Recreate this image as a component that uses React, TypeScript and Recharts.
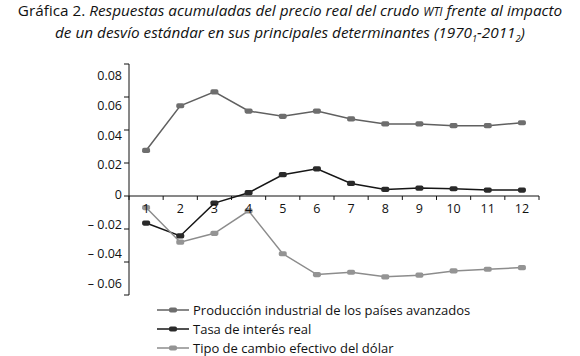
import React from "react";
import { LineChart, Line, XAxis, YAxis, ReferenceLine, LabelList } from "recharts";

const periods = [1, 2, 3, 4, 5, 6, 7, 8, 9, 10, 11, 12];
const produccion = [0.0276, 0.0547, 0.0631, 0.0515, 0.0483, 0.0515, 0.0467, 0.0437, 0.0437, 0.0426, 0.0426, 0.0444];
const tasa = [-0.0164, -0.0242, -0.0043, 0.002, 0.0129, 0.0165, 0.0076, 0.004, 0.0048, 0.0044, 0.0036, 0.0036];
const tipoCambio = [-0.007, -0.028, -0.0226, -0.009, -0.035, -0.0476, -0.0462, -0.049, -0.048, -0.0454, -0.0444, -0.0434];
const yTicks = [-0.06, -0.04, -0.02, 0, 0.02, 0.04, 0.06, 0.08];
const seriesNames = [
  "Producción industrial de los países avanzados",
  "Tasa de interés real",
  "Tipo de cambio efectivo del dólar",
];

const data = periods.map((p, i) => ({
  x: p,
  prod: produccion[i],
  tasa: tasa[i],
  tipo: tipoCambio[i],
  axis: 0,
}));

const boundaries = [0, ...periods].map((p) => p + 0.5);

const FONT = "'Open Sans', sans-serif";

const series = [
  { key: "prod", name: seriesNames[0], stroke: "#606060", dot: "#6e6e6e" },
  { key: "tasa", name: seriesNames[1], stroke: "#161616", dot: "#2a2a2a" },
  { key: "tipo", name: seriesNames[2], stroke: "#8c8c8c", dot: "#949494" },
];

const makeDot = (fill: string) => (props: any) => {
  const { cx, cy, index } = props;
  if (cx == null || cy == null) return <g key={index} />;
  return <rect key={index} x={cx - 4} y={cy - 2.6} width={8} height={5.2} rx={1.8} fill={fill} />;
};

const fmt = (v: number) => {
  if (v === 0) return "0";
  const s = Math.abs(v).toFixed(2);
  return v < 0 ? `\u2013 ${s}` : s;
};

const YTick = (props: any) => {
  const { x, y, payload } = props;
  const v = payload.value as number;
  return (
    <text x={x} y={y + v * 166 - 1.5} dy="0.35em" textAnchor="end" fontSize={12.5} fontFamily={FONT} fill="#111">
      {fmt(v)}
    </text>
  );
};

export default function App() {
  return (
    <div style={{ position: "absolute", left: 0, top: 0, width: 580, height: 356, background: "#fff", fontFamily: FONT }}>
      <div style={{ position: "absolute", left: 0, top: 0, width: 580, textAlign: "center", fontSize: 15.3, lineHeight: "21px", color: "#111" }}>
        <div style={{ whiteSpace: "nowrap" }}>
          Gráfica 2. <i>Respuestas acumuladas del precio real del crudo <span style={{ fontSize: "0.78em" }}>WTI</span> frente al impacto</i>
        </div>
        <div style={{ whiteSpace: "nowrap" }}>
          <i>
            de un desvío estándar en sus principales determinantes (1970<sub style={{ fontSize: "0.6em" }}>1</sub>-2011<sub style={{ fontSize: "0.6em" }}>2</sub>)
          </i>
        </div>
      </div>
      <div style={{ position: "absolute", left: 0, top: 0 }}>
        <LineChart width={580} height={356} data={data} margin={{ top: 64, right: 41, bottom: 61, left: 0 }}>
          <XAxis dataKey="x" type="number" domain={[0.5, 12.5]} hide />
          <YAxis
            width={129}
            domain={[-0.06, 0.08]}
            ticks={yTicks}
            interval={0}
            axisLine={{ stroke: "#111" }}
            tickLine={{ stroke: "#111" }}
            tickSize={5}
            tick={<YTick />}
          />
          <ReferenceLine y={0} stroke="#111" strokeWidth={1} />
          {boundaries.map((b) => (
            <ReferenceLine
              key={b}
              segment={[
                { x: b, y: 0 },
                { x: b, y: -0.0024 },
              ]}
              stroke="#111"
            />
          ))}
          <Line dataKey="axis" stroke="none" dot={false} activeDot={false} isAnimationActive={false}>
            <LabelList dataKey="x" position="bottom" offset={8} fontSize={12.5} fontFamily={FONT} fill="#111" />
          </Line>
          {series.map((s) => (
            <Line
              key={s.key}
              dataKey={s.key}
              stroke={s.stroke}
              strokeWidth={1.5}
              dot={makeDot(s.dot)}
              activeDot={false}
              isAnimationActive={false}
            />
          ))}
        </LineChart>
      </div>
      <div style={{ position: "absolute", left: 157, top: 300, fontSize: 13, color: "#111" }}>
        {series.map((s) => (
          <div key={s.key} style={{ display: "flex", alignItems: "center", height: 19 }}>
            <svg width={32} height={10} style={{ marginRight: 4 }}>
              <line x1={0} y1={5} x2={32} y2={5} stroke={s.stroke} strokeWidth={1.5} />
              <rect x={12} y={2.5} width={8} height={5} rx={1.8} fill={s.dot} />
            </svg>
            <span>{s.name}</span>
          </div>
        ))}
      </div>
    </div>
  );
}
